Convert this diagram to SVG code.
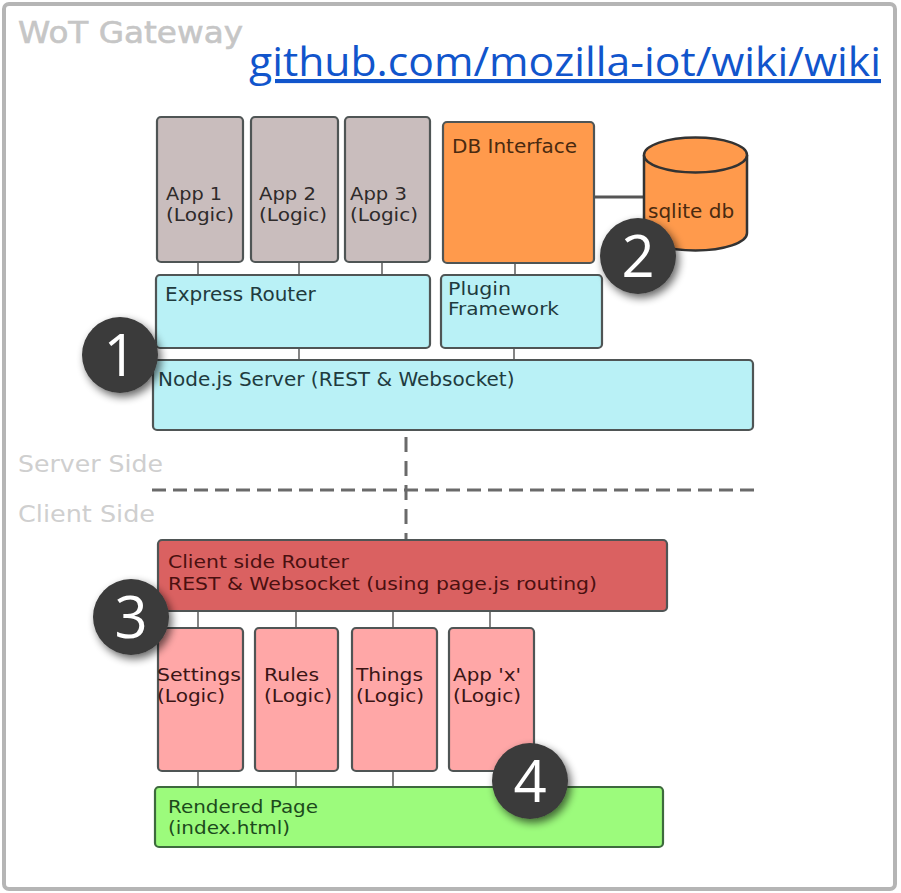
<svg xmlns="http://www.w3.org/2000/svg" width="901" height="893" viewBox="0 0 901 893">
<style>
.box{stroke:#4f5555;stroke-width:2.2}
.app{fill:#c9bdbd}
.cyan{fill:#b9f1f6}
.orange{fill:#ff9a4c}
.router{fill:#da6161}
.pink{fill:#ffa7a7}
.green{fill:#9cfb7c;stroke:#3d6a3d}
.t{font-family:"DejaVu Sans",sans-serif;font-size:20px}
.t2{font-family:"DejaVu Sans",sans-serif;font-size:18px}
.td{fill:#2e2a2a}
.tc{fill:#1f3b3e}
.to{fill:#4a2a10}
.tr{fill:#4a1010}
.tp{fill:#3a1515}
.tg{fill:#1c4a1c}
.side{font-family:"DejaVu Sans",sans-serif;font-size:23px;fill:#cfcfcf}
.conn{stroke:#666;stroke-width:1.6;fill:none}
.dash{stroke:#6a6a6a;stroke-width:3;fill:none}
.badge circle{fill:#3b3b3b}
.badge text{font-family:"Open Sans",sans-serif;font-size:58px;fill:#ffffff;text-anchor:middle}
</style>
<defs>
<filter id="sh" x="-40%" y="-40%" width="180%" height="180%">
<feGaussianBlur in="SourceAlpha" stdDeviation="4"/>
<feOffset dx="3" dy="4" result="b"/>
<feComponentTransfer><feFuncA type="linear" slope="0.6"/></feComponentTransfer>
<feMerge><feMergeNode/><feMergeNode in="SourceGraphic"/></feMerge>
</filter>
</defs>
<rect x="0" y="0" width="901" height="893" fill="#ffffff"/>
<rect x="4" y="4" width="891" height="885" rx="5" fill="#ffffff" stroke="#b5b5b5" stroke-width="4"/>
<text x="18" y="43" font-family="DejaVu Sans,sans-serif" font-size="31" fill="#c6c6c6" stroke="#c6c6c6" stroke-width="0.6" textLength="225" lengthAdjust="spacingAndGlyphs">WoT Gateway</text>
<text x="249" y="76" font-family="Open Sans,sans-serif" font-size="41" fill="#1155cc" text-decoration="underline" textLength="632" lengthAdjust="spacingAndGlyphs">github.com/mozilla-iot/wiki/wiki</text>

<g id="connectors">
<line class="conn" x1="198" y1="262" x2="198" y2="275"/>
<line class="conn" x1="299" y1="262" x2="299" y2="275"/>
<line class="conn" x1="382" y1="262" x2="382" y2="275"/>
<line class="conn" x1="515" y1="263" x2="515" y2="275"/>
<line stroke="#555" stroke-width="3" x1="594" y1="197" x2="645" y2="197"/>
<line class="conn" x1="299" y1="348" x2="299" y2="360"/>
<line class="conn" x1="514" y1="348" x2="514" y2="360"/>
<line class="dash" x1="406" y1="437" x2="406" y2="540" stroke-dasharray="15,9"/>
<line class="dash" x1="152" y1="490" x2="756" y2="490" stroke-dasharray="14,7"/>
<line class="conn" x1="198" y1="611" x2="198" y2="628"/>
<line class="conn" x1="296" y1="611" x2="296" y2="628"/>
<line class="conn" x1="393" y1="611" x2="393" y2="628"/>
<line class="conn" x1="490" y1="611" x2="490" y2="628"/>
<line class="conn" x1="198" y1="771" x2="198" y2="787"/>
<line class="conn" x1="296" y1="771" x2="296" y2="787"/>
<line class="conn" x1="393" y1="771" x2="393" y2="787"/>
</g>

<g id="app1"><rect class="box app" x="157" y="117" width="86" height="145" rx="4"/><text class="t2 td" x="166" y="200" textLength="56" lengthAdjust="spacingAndGlyphs">App 1</text><text class="t2 td" x="166" y="221" textLength="68" lengthAdjust="spacingAndGlyphs">(Logic)</text></g>
<g id="app2"><rect class="box app" x="251" y="117" width="87" height="145" rx="4"/><text class="t2 td" x="259" y="200" textLength="57" lengthAdjust="spacingAndGlyphs">App 2</text><text class="t2 td" x="259" y="221" textLength="68" lengthAdjust="spacingAndGlyphs">(Logic)</text></g>
<g id="app3"><rect class="box app" x="345" y="117" width="85" height="145" rx="4"/><text class="t2 td" x="350" y="200" textLength="57" lengthAdjust="spacingAndGlyphs">App 3</text><text class="t2 td" x="350" y="221" textLength="68" lengthAdjust="spacingAndGlyphs">(Logic)</text></g>
<g id="db-interface"><rect class="box orange" x="443" y="122" width="151" height="141" rx="4"/><text class="t to" x="452" y="153">DB Interface</text></g>
<g id="sqlite-db">
<path d="M644,155 L644,233 A51.5,17.5 0 0 0 747,233 L747,155" fill="#ff9a4c" stroke="#333" stroke-width="2.5"/>
<ellipse cx="695.5" cy="155" rx="51.5" ry="17.5" fill="#ff9a4c" stroke="#333" stroke-width="2.5"/>
<text class="t to" x="648" y="218">sqlite db</text>
</g>
<g id="express-router"><rect class="box cyan" x="156" y="275" width="274" height="73" rx="4"/><text class="t tc" x="165" y="301">Express Router</text></g>
<g id="plugin-framework"><rect class="box cyan" x="441" y="275" width="161" height="73" rx="4"/><text class="t2 tc" x="448" y="295" textLength="63" lengthAdjust="spacingAndGlyphs">Plugin</text><text class="t2 tc" x="448" y="315" textLength="111" lengthAdjust="spacingAndGlyphs">Framework</text></g>
<g id="nodejs-server"><rect class="box cyan" x="153" y="360" width="600" height="70" rx="4" stroke="#3a4444" stroke-width="2.6"/><text class="t tc" x="158" y="386">Node.js Server (REST &amp; Websocket)</text></g>

<text class="side" x="18" y="472" textLength="145" lengthAdjust="spacingAndGlyphs">Server Side</text>
<text class="side" x="18" y="522" textLength="137" lengthAdjust="spacingAndGlyphs">Client Side</text>

<g id="client-router"><rect class="box router" x="158" y="540" width="509" height="71" rx="4"/><text class="t2 tr" x="168" y="568" textLength="181" lengthAdjust="spacingAndGlyphs">Client side Router</text><text class="t2 tr" x="168" y="590" textLength="429" lengthAdjust="spacingAndGlyphs">REST &amp; Websocket (using page.js routing)</text></g>
<g id="settings"><rect class="box pink" x="158" y="628" width="85" height="143" rx="4"/><text class="t2 tp" x="157" y="681" textLength="84" lengthAdjust="spacingAndGlyphs">Settings</text><text class="t2 tp" x="157" y="702" textLength="68" lengthAdjust="spacingAndGlyphs">(Logic)</text></g>
<g id="rules"><rect class="box pink" x="255" y="628" width="83" height="143" rx="4"/><text class="t2 tp" x="264" y="681" textLength="55" lengthAdjust="spacingAndGlyphs">Rules</text><text class="t2 tp" x="264" y="702" textLength="68" lengthAdjust="spacingAndGlyphs">(Logic)</text></g>
<g id="things"><rect class="box pink" x="352" y="628" width="85" height="143" rx="4"/><text class="t2 tp" x="356" y="681" textLength="67" lengthAdjust="spacingAndGlyphs">Things</text><text class="t2 tp" x="356" y="702" textLength="68" lengthAdjust="spacingAndGlyphs">(Logic)</text></g>
<g id="app-x"><rect class="box pink" x="449" y="628" width="85" height="143" rx="4"/><text class="t2 tp" x="453" y="681" textLength="68" lengthAdjust="spacingAndGlyphs">App 'x'</text><text class="t2 tp" x="453" y="702" textLength="68" lengthAdjust="spacingAndGlyphs">(Logic)</text></g>
<g id="rendered-page"><rect class="box green" x="155" y="787" width="508" height="60" rx="4"/><text class="t2 tg" x="168" y="813" textLength="150" lengthAdjust="spacingAndGlyphs">Rendered Page</text><text class="t2 tg" x="168" y="834" textLength="122" lengthAdjust="spacingAndGlyphs">(index.html)</text></g>

<g id="badge1" class="badge" filter="url(#sh)"><circle cx="120" cy="355" r="38"/><text x="120" y="376">1</text></g>
<g id="badge2" class="badge" filter="url(#sh)"><circle cx="638" cy="256" r="38"/><text x="638" y="277">2</text></g>
<g id="badge3" class="badge" filter="url(#sh)"><circle cx="131" cy="617" r="38"/><text x="131" y="638">3</text></g>
<g id="badge4" class="badge" filter="url(#sh)"><circle cx="530" cy="781" r="38"/><text x="530" y="802">4</text></g>
</svg>
